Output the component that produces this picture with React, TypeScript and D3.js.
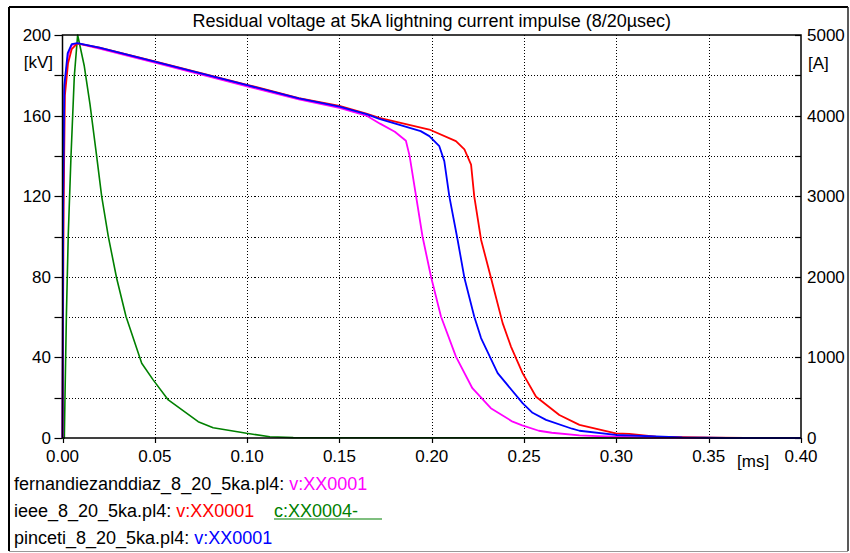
import React from "react";
import * as d3 from "d3";

// ---- data (time in ms, voltage in kV, current in A) ----
const T_FERN = [0, 0.0004, 0.001, 0.003, 0.005, 0.008, 0.02, 0.05, 0.1, 0.128, 0.15, 0.165, 0.172, 0.18, 0.186, 0.188, 0.1915, 0.195, 0.1996, 0.205, 0.2131, 0.222, 0.232, 0.2438, 0.249, 0.258, 0.265, 0.28, 0.29, 0.318, 0.34, 0.4];
const V_FERN = [0, 115, 172, 190, 195, 195.8, 193.2, 186.3, 174.5, 168, 163.8, 159.8, 156, 152, 147.5, 140, 120, 100, 80, 60.3, 40.4, 24.7, 14.8, 8.1, 6.3, 3.6, 2.6, 1.3, 0.9, 0.2, 0, 0];

const T_IEEE = [0, 0.0006, 0.0013, 0.003, 0.005, 0.008, 0.02, 0.05, 0.1, 0.128, 0.15, 0.165, 0.1716, 0.1987, 0.2131, 0.2177, 0.2213, 0.223, 0.2267, 0.2321, 0.2384, 0.2429, 0.2492, 0.2565, 0.2691, 0.28, 0.2997, 0.307, 0.3214, 0.336, 0.354, 0.37, 0.4];
const V_IEEE = [0, 115, 170, 186, 193, 195.8, 193.7, 186.9, 175.3, 168.7, 164.8, 160.8, 158.9, 153.1, 147.3, 143.2, 135.7, 120, 98.4, 79.4, 57, 45.4, 32.2, 20.5, 11.4, 6.5, 2.3, 2.0, 0.7, 0.4, 0.2, 0, 0];

const T_PINC = [0, 0.0004, 0.001, 0.0028, 0.005, 0.008, 0.02, 0.05, 0.1, 0.128, 0.15, 0.165, 0.1716, 0.194, 0.1987, 0.2041, 0.2068, 0.2095, 0.214, 0.2177, 0.223, 0.2267, 0.2357, 0.2492, 0.2546, 0.2619, 0.276, 0.28, 0.2997, 0.3357, 0.36, 0.4];
const V_PINC = [0, 120, 175, 191, 195.5, 196, 193.7, 186.8, 175.1, 168.5, 164.5, 160.6, 158.4, 152.3, 149.8, 144.8, 137.4, 120, 98.4, 79.4, 60.3, 49.6, 32.2, 17.3, 12.5, 9.0, 4.6, 3.6, 1.5, 0.3, 0, 0];

const T_CURR = [0, 0.001, 0.00135, 0.0021, 0.0031, 0.0046, 0.0064, 0.0082, 0.0118, 0.0149, 0.0185, 0.0212, 0.0248, 0.0293, 0.0344, 0.0429, 0.0491, 0.0573, 0.0735, 0.0816, 0.0997, 0.1123, 0.125, 0.4];
const A_CURR = [0, 0, 513, 1508, 2502, 3496, 4490, 5000, 4615, 4138, 3496, 3000, 2502, 1985, 1508, 928, 721, 472, 203, 128, 58, 16, 5, 0];

const X_TICKS = [0, 0.05, 0.1, 0.15, 0.2, 0.25, 0.3, 0.35, 0.4];
const Y_GRID = [0, 20, 40, 60, 80, 100, 120, 140, 160, 180, 200];
const Y_LABELS = [0, 40, 80, 120, 160, 200];
const A_LABELS = [0, 1000, 2000, 3000, 4000, 5000];

const TITLE = "Residual voltage at 5kA lightning current impulse (8/20µsec)";

const FONT = "'Liberation Sans', Arial, sans-serif";

export default function App() {
  const left = 62.5, right = 801, top = 35, bottom = 438;
  const x = d3.scaleLinear().domain([0, 0.4]).range([left, right]);
  const y = d3.scaleLinear().domain([0, 200]).range([bottom, top]);
  const yA = d3.scaleLinear().domain([0, 5000]).range([bottom, top]);
  const px = (v: number) => Math.round(v) + 0.5;

  const mk = (ts: number[], vs: number[], sc: d3.ScaleLinear<number, number>) =>
    d3.line<number>().x((_, i) => x(ts[i])).y((v) => sc(v))(vs) || "";

  const series = [
    { d: mk(T_CURR, A_CURR, yA), c: "#008000", w: 1.6 },
    { d: mk(T_FERN, V_FERN, y), c: "#ff00ff", w: 1.8 },
    { d: mk(T_IEEE, V_IEEE, y), c: "#ff0000", w: 1.8 },
    { d: mk(T_PINC, V_PINC, y), c: "#0000ff", w: 1.8 },
  ];

  return (
    <svg width={850} height={553} style={{ position: "absolute", left: 0, top: 0, background: "#fff" }} fontFamily={FONT}>
      <rect x={0} y={0} width={850} height={553} fill="#fff" />
      {/* outer frame */}
      <line x1={9} y1={7} x2={848} y2={7} stroke="#000" strokeWidth={2} />
      <line x1={9} y1={7} x2={9} y2={551} stroke="#000" strokeWidth={2} />
      <line x1={848} y1={7} x2={848} y2={551} stroke="#222" strokeWidth={1.5} />
      <line x1={9} y1={551.5} x2={848} y2={551.5} stroke="#999" strokeWidth={1} />

      <text x={(left + right) / 2} y={27} textAnchor="middle" fontSize={18}>{TITLE}</text>

      {/* grid */}
      <g shapeRendering="crispEdges">
        {Y_GRID.filter((v) => v > 0 && v < 200).map((v) => (
          <line key={"gy" + v} x1={left} x2={right} y1={px(y(v))} y2={px(y(v))} stroke="#000" strokeWidth={1} strokeDasharray="1,2" />
        ))}
        {X_TICKS.filter((t) => t > 0 && t < 0.4).map((t) => (
          <line key={"gx" + t} x1={px(x(t))} x2={px(x(t))} y1={top} y2={bottom} stroke="#000" strokeWidth={1} strokeDasharray="1,2" />
        ))}
      </g>

      {/* ticks */}
      {Y_GRID.map((v) => (
        <g key={"ty" + v}>
          <line x1={left - 8} x2={left} y1={px(y(v))} y2={px(y(v))} stroke="#000" strokeWidth={1.2} />
          <line x1={right - 6} x2={right} y1={px(y(v))} y2={px(y(v))} stroke="#000" strokeWidth={1.2} />
        </g>
      ))}
      {X_TICKS.map((t) => (
        <line key={"tx" + t} x1={px(x(t))} x2={px(x(t))} y1={bottom} y2={bottom + 5} stroke="#000" strokeWidth={1.2} />
      ))}

      {/* curves */}
      <g fill="none" strokeLinejoin="round">
        {series.map((s, i) => (
          <path key={i} d={s.d} stroke={s.c} strokeWidth={s.w} />
        ))}
      </g>

      {/* plot box */}
      <rect x={left} y={top} width={right - left} height={bottom - top} fill="none" stroke="#000" strokeWidth={1.5} />

      {/* labels */}
      {Y_LABELS.map((v) => (
        <text key={"ly" + v} x={51} y={y(v) + 6} textAnchor="end" fontSize={17}>{v}</text>
      ))}
      <text x={53} y={68} textAnchor="end" fontSize={17}>[kV]</text>
      {A_LABELS.map((v) => (
        <text key={"la" + v} x={807} y={yA(v) + 6} textAnchor="start" fontSize={17}>{v}</text>
      ))}
      <text x={808} y={69} textAnchor="start" fontSize={17}>[A]</text>
      {X_TICKS.map((t) => (
        <text key={"lx" + t} x={x(t)} y={462} textAnchor="middle" fontSize={17}>{t.toFixed(2)}</text>
      ))}
      <text x={737} y={467} fontSize={17}>[ms]</text>

      {/* legend */}
      <text x={14} y={490} fontSize={18}>
        <tspan fill="#000">fernandiezanddiaz_8_20_5ka.pl4: </tspan>
        <tspan fill="#ff00ff">v:XX0001</tspan>
      </text>
      <text x={14} y={517} fontSize={18}>
        <tspan fill="#000">ieee_8_20_5ka.pl4: </tspan>
        <tspan fill="#ff0000">v:XX0001</tspan>
      </text>
      <text x={274} y={517} fontSize={18} fill="#008000">c:XX0004-</text>
      <line x1={274} x2={382} y1={519} y2={519} stroke="#008000" strokeWidth={1.2} />
      <text x={14} y={544} fontSize={18}>
        <tspan fill="#000">pinceti_8_20_5ka.pl4: </tspan>
        <tspan fill="#0000ff">v:XX0001</tspan>
      </text>
    </svg>
  );
}
